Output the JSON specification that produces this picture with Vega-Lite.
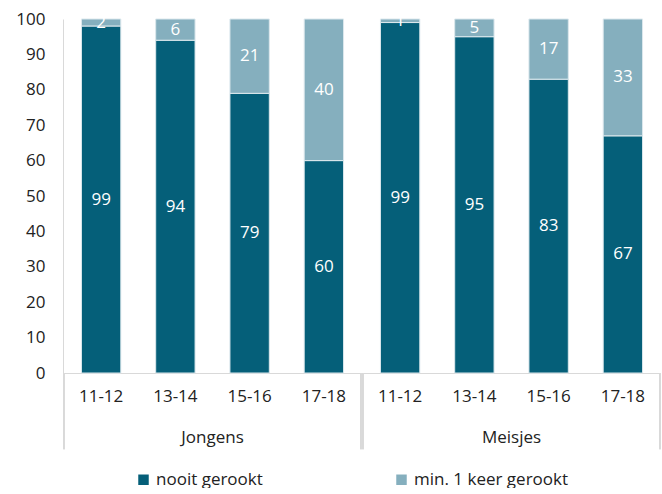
{
  "$schema": "https://vega.github.io/schema/vega-lite/v6.json",
  "background": "white",
  "padding": {"left": 15, "top": 10, "right": 4, "bottom": 0},
  "data": {"values": [
    {"geslacht": "Jongens", "leeftijd": "11-12", "categorie": "nooit gerookt", "waarde": 99},
    {"geslacht": "Jongens", "leeftijd": "11-12", "categorie": "min. 1 keer gerookt", "waarde": 2},
    {"geslacht": "Jongens", "leeftijd": "13-14", "categorie": "nooit gerookt", "waarde": 94},
    {"geslacht": "Jongens", "leeftijd": "13-14", "categorie": "min. 1 keer gerookt", "waarde": 6},
    {"geslacht": "Jongens", "leeftijd": "15-16", "categorie": "nooit gerookt", "waarde": 79},
    {"geslacht": "Jongens", "leeftijd": "15-16", "categorie": "min. 1 keer gerookt", "waarde": 21},
    {"geslacht": "Jongens", "leeftijd": "17-18", "categorie": "nooit gerookt", "waarde": 60},
    {"geslacht": "Jongens", "leeftijd": "17-18", "categorie": "min. 1 keer gerookt", "waarde": 40},
    {"geslacht": "Meisjes", "leeftijd": "11-12", "categorie": "nooit gerookt", "waarde": 99},
    {"geslacht": "Meisjes", "leeftijd": "11-12", "categorie": "min. 1 keer gerookt", "waarde": 1},
    {"geslacht": "Meisjes", "leeftijd": "13-14", "categorie": "nooit gerookt", "waarde": 95},
    {"geslacht": "Meisjes", "leeftijd": "13-14", "categorie": "min. 1 keer gerookt", "waarde": 5},
    {"geslacht": "Meisjes", "leeftijd": "15-16", "categorie": "nooit gerookt", "waarde": 83},
    {"geslacht": "Meisjes", "leeftijd": "15-16", "categorie": "min. 1 keer gerookt", "waarde": 17},
    {"geslacht": "Meisjes", "leeftijd": "17-18", "categorie": "nooit gerookt", "waarde": 67},
    {"geslacht": "Meisjes", "leeftijd": "17-18", "categorie": "min. 1 keer gerookt", "waarde": 33}
  ]},
  "facet": {
    "column": {
      "field": "geslacht", "type": "nominal", "sort": ["Jongens", "Meisjes"],
      "header": {"title": null, "labelOrient": "bottom", "labelFontSize": 17, "labelColor": "#222222", "labelPadding": -20}
    }
  },
  "spacing": 0,
  "resolve": {"scale": {"x": "independent"}},
  "spec": {
    "width": 297,
    "height": 354,
    "layer": [
      {
        "layer": [
          {
            "mark": {"type": "bar", "stroke": "#dce8ed", "strokeWidth": 1},
            "encoding": {
              "x": {"field": "leeftijd", "type": "ordinal", "title": null,
                    "scale": {"paddingInner": 0.47, "paddingOuter": 0.235},
                    "axis": {"labelAngle": 0, "ticks": false, "labelPadding": 15, "domainColor": "#d9d9d9", "labelFontSize": 17, "labelColor": "#222222"}},
              "y": {"field": "waarde", "type": "quantitative", "stack": "normalize", "title": null,
                    "scale": {"domain": [0, 1], "nice": false},
                    "axis": {"values": [0, 0.1, 0.2, 0.3, 0.4, 0.5, 0.6, 0.7, 0.8, 0.9, 1], "labelExpr": "round(datum.value*100)", "labelOverlap": false, "ticks": false, "grid": false, "domainColor": "#d9d9d9", "labelFontSize": 17, "labelColor": "#222222", "labelPadding": 18}},
              "color": {"field": "categorie", "type": "nominal", "sort": ["nooit gerookt", "min. 1 keer gerookt"],
                        "scale": {"domain": ["nooit gerookt", "min. 1 keer gerookt"], "range": ["#055f79", "#85afbe"]},
                        "legend": {"orient": "none", "legendX": 71, "legendY": 452, "direction": "horizontal", "title": null, "symbolType": "square", "symbolSize": 110, "symbolStrokeWidth": 0, "labelFontSize": 17, "labelColor": "#222222", "columnPadding": 130}}
            }
          },
          {
            "mark": {"type": "text", "color": "white", "fontSize": 17, "baseline": "middle"},
            "encoding": {
              "x": {"field": "leeftijd", "type": "ordinal"},
              "y": {"field": "waarde", "type": "quantitative", "stack": "normalize", "bandPosition": 0.5, "title": null, "scale": {"domain": [0, 1], "nice": false},
                    "axis": {"values": [0, 0.1, 0.2, 0.3, 0.4, 0.5, 0.6, 0.7, 0.8, 0.9, 1], "labelExpr": "round(datum.value*100)", "labelOverlap": false, "ticks": false, "grid": false, "domainColor": "#d9d9d9", "labelFontSize": 17, "labelColor": "#222222", "labelPadding": 18}},
              "detail": {"field": "categorie", "type": "nominal", "sort": ["nooit gerookt", "min. 1 keer gerookt"]},
              "text": {"field": "waarde", "type": "quantitative"}
            }
          }
        ]
      },
      {
        "mark": {"type": "rule", "color": "#d9d9d9", "clip": false},
        "encoding": {
          "x": {"datum": 0, "type": "quantitative", "scale": {"domain": [0, 1]}, "axis": null},
          "y": {"datum": 0, "type": "quantitative", "title": null, "scale": {"domain": [0, 1], "nice": false},
                "axis": {"values": [0, 0.1, 0.2, 0.3, 0.4, 0.5, 0.6, 0.7, 0.8, 0.9, 1], "labelExpr": "round(datum.value*100)", "labelOverlap": false, "ticks": false, "grid": false, "domainColor": "#d9d9d9", "labelFontSize": 17, "labelColor": "#222222", "labelPadding": 18}},
          "y2": {"datum": -0.215}
        }
      },
      {
        "mark": {"type": "rule", "color": "#d9d9d9", "clip": false},
        "encoding": {
          "x": {"datum": 1, "type": "quantitative", "scale": {"domain": [0, 1]}, "axis": null},
          "y": {"datum": 0, "type": "quantitative", "title": null, "scale": {"domain": [0, 1], "nice": false},
                "axis": {"values": [0, 0.1, 0.2, 0.3, 0.4, 0.5, 0.6, 0.7, 0.8, 0.9, 1], "labelExpr": "round(datum.value*100)", "labelOverlap": false, "ticks": false, "grid": false, "domainColor": "#d9d9d9", "labelFontSize": 17, "labelColor": "#222222", "labelPadding": 18}},
          "y2": {"datum": -0.215}
        }
      }
    ],
    "resolve": {"scale": {"x": "independent"}}
  },
  "config": {
    "font": "Open Sans",
    "view": {"stroke": null}
  }
}
